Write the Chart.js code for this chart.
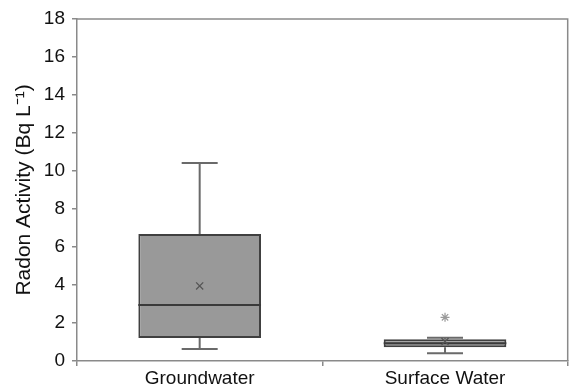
<!DOCTYPE html>
<html>
<head>
<meta charset="utf-8">
<script src="https://cdn.jsdelivr.net/npm/chart.js@4.4.0/dist/chart.umd.min.js"></script>
<style>
  html, body { margin: 0; padding: 0; background: #fff; }
  #wrap { width: 574px; height: 387px; }
</style>
</head>
<body>
<div id="wrap"><canvas id="radonChart"></canvas></div>
<script>
// box plot numbers (Bq/L)
var categories = ["Groundwater", "Surface Water"];
var whiskerLow = [0.63, 0.41];
var quartile1 = [1.21, 0.72];
var medians = [2.95, 0.93];
var quartile3 = [6.68, 1.14];
var whiskerHigh = [10.42, 1.23];
var means = [3.95, 1.02];
var outliers = [null, 2.30];
var yTicks = [0, 2, 4, 6, 8, 10, 12, 14, 16, 18];

var boxes = categories.map(function (c, i) { return [quartile1[i], quartile3[i]]; });

// whiskers + median lines, drawn with the chart's own scales
var boxExtras = {
    id: 'boxExtras',
    beforeDatasetsDraw: function (chart) {
        var c = chart.ctx, x = chart.scales.x, y = chart.scales.y;
        c.save();
        c.strokeStyle = '#6a6a6a';
        c.lineWidth = 2;
        categories.forEach(function (cat, i) {
            var px = x.getPixelForValue(i);
            var half = 18;
            c.beginPath();
            c.moveTo(px, y.getPixelForValue(quartile3[i]));
            c.lineTo(px, y.getPixelForValue(whiskerHigh[i]));
            c.moveTo(px - half, y.getPixelForValue(whiskerHigh[i]));
            c.lineTo(px + half, y.getPixelForValue(whiskerHigh[i]));
            c.moveTo(px, y.getPixelForValue(quartile1[i]));
            c.lineTo(px, y.getPixelForValue(whiskerLow[i]));
            c.moveTo(px - half, y.getPixelForValue(whiskerLow[i]));
            c.lineTo(px + half, y.getPixelForValue(whiskerLow[i]));
            c.stroke();
        });
        c.restore();
    },
    afterDatasetDraw: function (chart, args) {
        if (args.index !== 0) return;
        var c = chart.ctx, y = chart.scales.y;
        var meta = chart.getDatasetMeta(0);
        c.save();
        c.strokeStyle = '#3a3a3a';
        c.lineWidth = 2;
        categories.forEach(function (cat, i) {
            var bar = meta.data[i];
            var half = bar.width / 2;
            var py = y.getPixelForValue(medians[i]);
            c.beginPath();
            c.moveTo(bar.x - half, py);
            c.lineTo(bar.x + half, py);
            c.stroke();
        });
        c.restore();
    },
    afterDraw: function (chart) {
        // frame round the plot area
        var c = chart.ctx, a = chart.chartArea;
        c.save();
        c.strokeStyle = '#8a8a8a';
        c.lineWidth = 1.5;
        c.beginPath();
        c.moveTo(a.left, a.top);
        c.lineTo(a.right, a.top);
        c.lineTo(a.right, a.bottom);
        c.stroke();
        c.restore();
    }
};

var ctx = document.getElementById('radonChart').getContext('2d');
var chart = new Chart(ctx, {
    type: 'bar',
    data: {
        labels: categories,
        datasets: [{
            type: 'bar',
            data: boxes,
            backgroundColor: '#999999',
            borderColor: '#404040',
            borderWidth: 2,
            borderSkipped: false,
            categoryPercentage: 1,
            barPercentage: 0.5,
            order: 3
        }, {
            type: 'line',
            data: means,
            showLine: false,
            pointStyle: 'crossRot',
            pointRadius: 5,
            borderColor: '#555555',
            borderWidth: 1.3,
            order: 1
        }, {
            type: 'line',
            data: outliers,
            showLine: false,
            pointStyle: 'star',
            pointRadius: 4.5,
            borderColor: '#9a9a9a',
            borderWidth: 1.2,
            order: 1
        }]
    },
    options: {
        responsive: true,
        maintainAspectRatio: false,
        animation: false,
        layout: { padding: { top: 19, right: 1, left: 0, bottom: 0 } },
        plugins: {
            legend: { display: false },
            tooltip: { enabled: false }
        },
        scales: {
            x: {
                offset: true,
                grid: {
                    offset: true,
                    drawOnChartArea: false,
                    color: '#8a8a8a',
                    lineWidth: 1.5,
                    tickLength: 5
                },
                border: { color: '#8a8a8a', width: 1.5 },
                ticks: {
                    color: '#111',
                    padding: 1,
                    font: { family: 'Liberation Sans, Arial, sans-serif', size: 19 }
                },
                afterFit: function (s) { s.height = 26; }
            },
            y: {
                min: 0,
                max: 18,
                afterBuildTicks: function (s) {
                    s.ticks = yTicks.map(function (v) { return { value: v }; });
                },
                grid: {
                    drawOnChartArea: false,
                    color: '#8a8a8a',
                    lineWidth: 1.5,
                    tickLength: 5
                },
                border: { color: '#8a8a8a', width: 1.5 },
                ticks: {
                    color: '#111',
                    padding: 7,
                    font: { family: 'Liberation Sans, Arial, sans-serif', size: 19 }
                },
                title: {
                    display: true,
                    text: 'Radon Activity (Bq L\u207B\u00B9)',
                    color: '#111',
                    padding: { top: 12, bottom: 0 },
                    font: { family: 'Liberation Sans, Arial, sans-serif', size: 21 }
                },
                afterFit: function (s) { s.width = 77; }
            }
        }
    },
    plugins: [boxExtras]
});
</script>
</body>
</html>
